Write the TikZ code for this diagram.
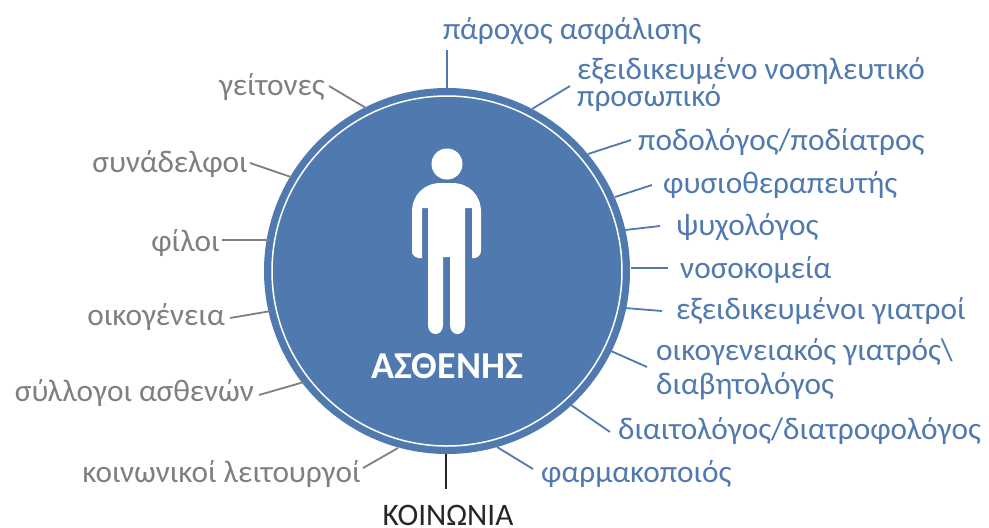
\documentclass[tikz,border=0pt]{standalone}
\usepackage{fontspec}
\setmainfont{Carlito}
\definecolor{bl}{HTML}{4F79AF}
\definecolor{gr}{HTML}{7F7F7F}
\definecolor{bk}{HTML}{262626}
\tikzset{
 lab/.style={font=\fontsize{31.3}{31.3}\selectfont,inner sep=0pt,align=left,text depth=0pt},
 bluelab/.style={lab,text=bl,anchor=base west},
 graylab/.style={lab,text=gr,anchor=base east},
 blueline/.style={draw=bl,line width=1.8pt},
 grayline/.style={draw=gr,line width=1.8pt},
 darkline/.style={draw=bk,line width=1.8pt},
}
\begin{document}
\begin{tikzpicture}[x=1pt,y=-1pt]
\useasboundingbox (0,0) rectangle (989,528);
\node[circle,fill=bl,minimum size=366pt,inner sep=0pt] (disc) at (447,271) {};
\draw[white,line width=1.5pt] (447,271) circle (175);
\fill[white] (447,164) circle (15.5);
\fill[white] (412,258) [rounded corners=0pt] -- (412,212)
  .. controls (412,195) and (424,183) .. (441,183) -- (452,183)
  .. controls (469,183) and (481,195) .. (481,212) -- (481,251)
  .. controls (481,256) and (476,259) .. (472,258) -- (472,208) -- (465,208)
  -- (465,325) .. controls (465,337) and (450,337) .. (450,325) -- (450,257) -- (443,257)
  -- (443,325) .. controls (443,337) and (428,337) .. (428,325) -- (428,208) -- (422,208)
  -- (422,258) .. controls (417,259) and (412,256) .. (412,251) -- cycle;
\node[font=\fontsize{38}{38}\selectfont\bfseries,text=white,inner sep=0pt,anchor=base] (title) at (447,378) {ΑΣΘΕΝΗΣ};

\node[bluelab] (a1) at (443,39) {πάροχος ασφάλισης};
\node[bluelab,font=\fontsize{31.3}{27.5}\selectfont,anchor=north west] (a2) at (577,57) {εξειδικευμένο νοσηλευτικό\\προσωπικό};
\node[bluelab] (a3) at (638,150) {ποδολόγος/ποδίατρος};
\node[bluelab] (a4) at (663,193) {φυσιοθεραπευτής};
\node[bluelab] (a5) at (676,235) {ψυχολόγος};
\node[bluelab] (a6) at (680,278) {νοσοκομεία};
\node[bluelab] (a7) at (676,319) {εξειδικευμένοι γιατροί};
\node[bluelab,font=\fontsize{31.3}{34}\selectfont,anchor=north west] (a8) at (656,338) {οικογενειακός γιατρός\textbackslash\\διαβητολόγος};
\node[bluelab] (a9) at (618,439) {διαιτολόγος/διατροφολόγος};
\node[bluelab] (a10) at (541,482) {φαρμακοποιός};
\node[lab,text=bk,anchor=base] (k) at (448,525) {ΚΟΙΝΩΝΙΑ};
\node[graylab] (b1) at (361,482) {κοινωνικοί λειτουργοί};
\node[graylab] (b2) at (254,401) {σύλλογοι ασθενών};
\node[graylab] (b3) at (225,325) {οικογένεια};
\node[graylab] (b4) at (220,251) {φίλοι};
\node[graylab] (b5) at (248,172) {συνάδελφοι};
\node[graylab] (b6) at (325,95) {γείτονες};

\foreach \n/\xa/\ya/\xb/\yb/\s in {
 a1/447/88/447/50/blueline, a2/532/109/570/86/blueline, a3/588/154/631/140/blueline,
 a4/615/197/652/185/blueline, a5/625/230/660/226/blueline, a6/631/268/668/268/blueline,
 a7/625/308/662/311/blueline, a8/611/351/647/367/blueline, a9/571/405/610/432/blueline,
 a10/497/447/533/469/blueline, k/446/454/446/489/darkline, b1/398/448/363/468/grayline,
 b2/304/382/259/395/grayline, b3/271/311/230/318/grayline, b4/270/240/222/240/grayline,
 b5/291/177/250/163/grayline, b6/366/108/329/86/grayline}{
 \coordinate (from\n) at (\xa,\ya);
 \coordinate (to\n) at (\xb,\yb);
 \path[\s] (from\n) -- (to\n);
}
\end{tikzpicture}
\end{document}
